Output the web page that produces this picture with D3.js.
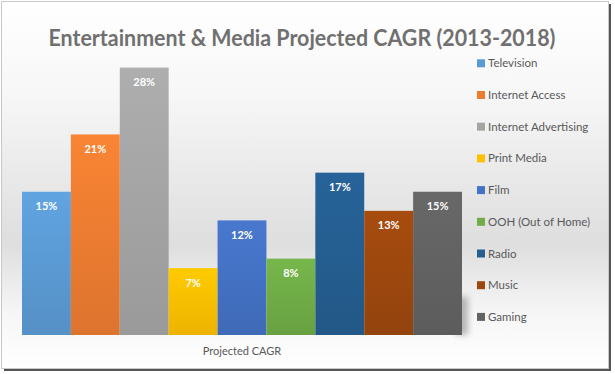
<!DOCTYPE html>
<html>
<head>
<meta charset="utf-8">
<script src="https://cdn.jsdelivr.net/npm/d3@7"></script>
<style>
  body { margin: 0; background: #fff; }
  text { font-family: Lato, "Open Sans", sans-serif; }
</style>
</head>
<body>
<div id="chart"></div>
<script>
var svgWidth = 615;
var svgHeight = 374;

// data
var categories = ["Television", "Internet Access", "Internet Advertising", "Print Media",
  "Film", "OOH (Out of Home)", "Radio", "Music", "Gaming"];
var values = [15, 21, 28, 7, 12, 8, 17, 13, 15];
var colors = ["#5B9BD5", "#ED7D31", "#A5A5A5", "#FFC000", "#4472C4",
  "#70AD47", "#255E91", "#9E480E", "#636363"];
var groupLabel = "Projected CAGR";
var title = "Entertainment & Media Projected CAGR (2013-2018)";

var plot = { left: 22, right: 462, top: 48.5, bottom: 335 };

var svg = d3.select("#chart")
  .append("svg")
  .attr("width", svgWidth)
  .attr("height", svgHeight);

var defs = svg.append("defs");

// chart background: white -> light gray -> white
var bg = defs.append("linearGradient")
  .attr("id", "bg")
  .attr("x1", 0).attr("y1", 0).attr("x2", 0).attr("y2", 1);
bg.append("stop").attr("offset", "0%").attr("stop-color", "#ffffff");
bg.append("stop").attr("offset", "25%").attr("stop-color", "#f7f7f7");
bg.append("stop").attr("offset", "66%").attr("stop-color", "#dedede");
bg.append("stop").attr("offset", "85%").attr("stop-color", "#f6f6f6");
bg.append("stop").attr("offset", "100%").attr("stop-color", "#ffffff");

// bar gradients, a bit lighter at top
colors.forEach(function(c, i) {
  var g = defs.append("linearGradient")
    .attr("id", "bar" + i)
    .attr("x1", 0).attr("y1", 0).attr("x2", 0).attr("y2", 1);
  g.append("stop").attr("offset", "0%").attr("stop-color", d3.color(c).brighter(0.15));
  g.append("stop").attr("offset", "100%").attr("stop-color", d3.color(c).darker(0.2));
});

var blur = defs.append("filter")
  .attr("id", "blur")
  .attr("x", "-50%").attr("y", "-50%").attr("width", "200%").attr("height", "200%");
blur.append("feGaussianBlur").attr("stdDeviation", 3);

// frame with shadow
svg.append("rect")
  .attr("x", 4).attr("y", 4).attr("width", 607).attr("height", 367)
  .attr("fill", "#555");
svg.append("rect")
  .attr("x", 1.5).attr("y", 1.5).attr("width", 607).attr("height", 367)
  .attr("fill", "url(#bg)")
  .attr("stroke", "#c8c8c8");

var xScale = d3.scaleBand()
  .domain(categories)
  .range([plot.left, plot.right])
  .padding(0);

var yScale = d3.scaleLinear()
  .domain([0, 30])
  .range([plot.bottom, plot.top]);

// soft shadow behind the lower right of the last bar
var last = categories[categories.length - 1];
svg.append("rect")
  .attr("x", xScale(last) + xScale.bandwidth() - 6)
  .attr("y", yScale(4))
  .attr("width", 12)
  .attr("height", yScale(0) - yScale(4))
  .attr("fill", "#888")
  .attr("opacity", 0.6)
  .attr("filter", "url(#blur)");

svg.append("g").selectAll("rect")
  .data(values)
  .enter()
  .append("rect")
  .attr("x", (d, i) => xScale(categories[i]))
  .attr("y", d => yScale(d))
  .attr("width", xScale.bandwidth())
  .attr("height", d => yScale(0) - yScale(d))
  .attr("fill", (d, i) => "url(#bar" + i + ")");

svg.selectAll(".valueLabel")
  .data(values)
  .enter()
  .append("text")
  .attr("class", "valueLabel")
  .attr("x", (d, i) => xScale(categories[i]) + xScale.bandwidth() / 2)
  .attr("y", d => yScale(d) + 18.5)
  .attr("text-anchor", "middle")
  .attr("fill", "#ffffff")
  .attr("font-size", "11px")
  .attr("font-weight", "bold")
  .text(d => d + "%");

// category label under the bars
svg.append("text")
  .attr("x", (plot.left + plot.right) / 2)
  .attr("y", 355)
  .attr("text-anchor", "middle")
  .attr("fill", "#595959")
  .attr("font-size", "11px")
  .text(groupLabel);

svg.append("text")
  .attr("x", 302)
  .attr("y", 46)
  .attr("text-anchor", "middle")
  .attr("fill", "#707070")
  .attr("font-size", "22px")
  .attr("font-weight", "bold")
  .attr("textLength", 507)
  .attr("lengthAdjust", "spacingAndGlyphs")
  .text(title);

// legend
var legend = svg.selectAll(".legend")
  .data(categories)
  .enter()
  .append("g")
  .attr("class", "legend")
  .attr("transform", (d, i) => `translate(477, ${63.3 + i * 31.7})`);

legend.append("rect")
  .attr("x", 0).attr("y", -4)
  .attr("width", 8).attr("height", 8)
  .attr("fill", (d, i) => colors[i]);

legend.append("text")
  .attr("x", 11)
  .attr("y", 4)
  .attr("fill", "#595959")
  .attr("font-size", "11.5px")
  .text(d => d);
</script>
</body>
</html>
